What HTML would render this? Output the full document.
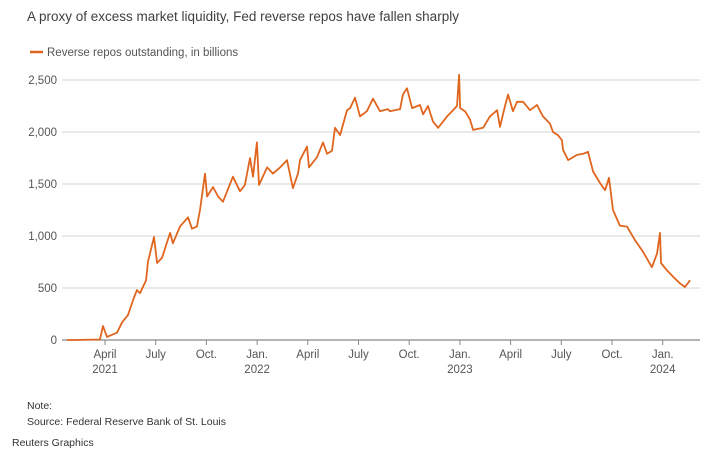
<!DOCTYPE html>
<html><head><meta charset="utf-8"><style>
body{margin:0;background:#fff;font-family:"Liberation Sans",sans-serif;}
svg text{font-family:"Liberation Sans",sans-serif;}
</style></head><body>
<svg id="chart" width="719" height="462">
<text x="27" y="21" font-size="13.5" fill="#404040">A proxy of excess market liquidity, Fed reverse repos have fallen sharply</text>
<line x1="30" y1="52" x2="43" y2="52" stroke="#e0661f" stroke-width="2.5"/>
<text x="47" y="56" font-size="11.5" fill="#555">Reverse repos outstanding, in billions</text>
<g id="grid"></g><g id="xaxis"></g>
<path id="line" fill="none" stroke="#e0661f" stroke-width="1.8" stroke-linejoin="round"/>
<text x="27" y="409" font-size="10.5" fill="#333">Note:</text>
<text x="27" y="425" font-size="10.5" fill="#333">Source: Federal Reserve Bank of St. Louis</text>
<text x="12" y="446" font-size="10.5" fill="#333">Reuters Graphics</text>
</svg>
<script>
const months=[0.75,1.05,2.70,2.88,3.12,3.71,4.01,4.36,4.66,4.89,5.07,5.43,5.54,5.90,6.08,6.37,6.85,7.02,7.44,7.91,8.15,8.44,8.62,8.92,9.04,9.39,9.69,9.98,10.57,10.99,11.28,11.58,11.76,11.99,12.11,12.59,12.94,13.36,13.77,14.12,14.42,14.54,14.95,15.07,15.55,15.90,16.14,16.43,16.61,16.91,17.32,17.50,17.79,18.09,18.50,18.86,19.27,19.74,19.86,20.46,20.63,20.87,21.17,21.64,21.82,22.11,22.41,22.71,23.24,23.59,23.83,23.95,24.01,24.30,24.60,24.78,25.37,25.78,26.20,26.37,26.67,26.85,27.14,27.38,27.74,28.15,28.56,28.92,29.33,29.51,29.80,30.04,30.10,30.40,30.93,31.29,31.58,31.88,32.29,32.59,32.82,33.06,33.47,33.89,34.36,34.83,35.36,35.66,35.84,35.90,36.25,36.61,37.02,37.32,37.62];
const values=[0,0,5,135,30,70,170,240,385,480,450,575,750,990,740,790,1030,930,1090,1180,1070,1090,1250,1600,1380,1470,1380,1330,1570,1430,1490,1750,1570,1900,1490,1660,1600,1660,1730,1460,1600,1730,1860,1660,1760,1900,1790,1820,2040,1970,2210,2230,2330,2150,2200,2320,2200,2220,2200,2220,2360,2420,2230,2260,2170,2250,2100,2040,2150,2210,2250,2550,2230,2200,2120,2020,2040,2150,2210,2050,2250,2360,2200,2290,2290,2210,2260,2150,2080,2000,1970,1920,1830,1730,1780,1790,1810,1620,1510,1440,1560,1250,1100,1090,960,850,700,830,1030,740,670,610,545,510,575];
const yTicks=[0,500,1000,1500,2000,2500];
const yTickLabels=["0","500","1,000","1,500","2,000","2,500"];
const xTickMonths=[3,6,9,12,15,18,21,24,27,30,33,36];
const xTickLabels=["April","July","Oct.","Jan.","April","July","Oct.","Jan.","April","July","Oct.","Jan."];
const xYearLabels=["2021","","","2022","","","","2023","","","","2024"];
const X=m=>54.3+m*16.9, Y=v=>340-v*0.104;
const NS="http://www.w3.org/2000/svg";
const grid=document.getElementById('grid'),xa=document.getElementById('xaxis');
yTicks.forEach((t,i)=>{
 const l=document.createElementNS(NS,'line');
 l.setAttribute('x1',62);l.setAttribute('x2',700);l.setAttribute('y1',Y(t));l.setAttribute('y2',Y(t));
 l.setAttribute('stroke',t===0?'#888':'#d4d4d4');l.setAttribute('stroke-width',t===0?1.3:1);
 
 
 grid.appendChild(l);
 const tx=document.createElementNS(NS,'text');
 tx.setAttribute('x',57);tx.setAttribute('y',Y(t)+4);tx.setAttribute('text-anchor','end');
 tx.setAttribute('font-size','11.5');tx.setAttribute('fill','#555');tx.textContent=yTickLabels[i];
 
 
 grid.appendChild(tx);
});
xTickMonths.forEach((m,i)=>{
 const tk=document.createElementNS(NS,'line');
 tk.setAttribute('x1',X(m));tk.setAttribute('x2',X(m));tk.setAttribute('y1',340);tk.setAttribute('y2',345);
 tk.setAttribute('stroke','#888');
 
 
 xa.appendChild(tk);
 const tx=document.createElementNS(NS,'text');
 tx.setAttribute('x',X(m));tx.setAttribute('y',358);tx.setAttribute('text-anchor','middle');
 tx.setAttribute('font-size','11.5');tx.setAttribute('fill','#555');tx.textContent=xTickLabels[i];
 
 
 xa.appendChild(tx);
 if(xYearLabels[i]){
  const ty=document.createElementNS(NS,'text');
  ty.setAttribute('x',X(m));ty.setAttribute('y',373);ty.setAttribute('text-anchor','middle');
  ty.setAttribute('font-size','11.5');ty.setAttribute('fill','#555');ty.textContent=xYearLabels[i];
  
  
  xa.appendChild(ty);
 }
});
document.getElementById('line').setAttribute('d',months.map((m,i)=>(i?'L':'M')+X(m).toFixed(1)+','+Y(values[i]).toFixed(1)).join(''));
</script>
</body></html>
